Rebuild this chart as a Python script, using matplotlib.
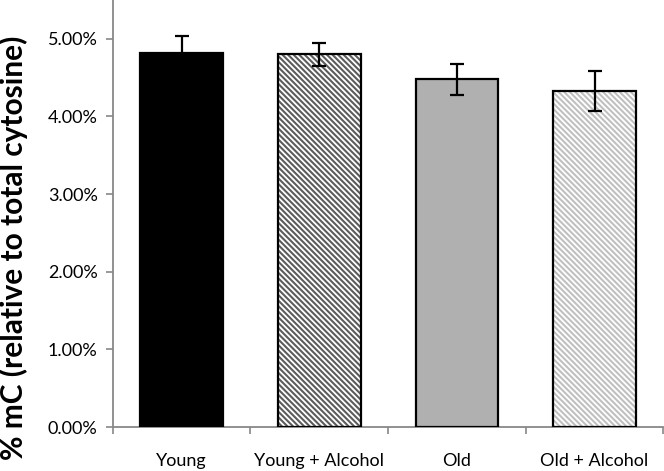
import matplotlib
matplotlib.use("Agg")
import matplotlib.pyplot as plt
import numpy as np
from matplotlib.ticker import FuncFormatter, FixedLocator

categories = ["Young", "Young + Alcohol", "Old", "Old + Alcohol"]
values = [0.0482, 0.0480, 0.0448, 0.0433]
errors = [0.0022, 0.0015, 0.0020, 0.0026]
yticks = [0.0, 0.01, 0.02, 0.03, 0.04, 0.05]

plt.rcParams['font.family'] = ['Lato', 'DejaVu Sans']
plt.rcParams['hatch.linewidth'] = 1.5

fig = plt.figure(figsize=(6.64, 4.71), dpi=100)
ax = fig.add_axes([0.170, 0.0934, 0.829, 0.9066])

x = np.arange(len(categories))
width = 0.6
faces = ["black", "white", "#b0b0b0", "white"]
hatches = [None, "\\\\\\\\\\\\", None, "\\\\\\\\\\\\"]
hcolors = ["black", "#5c5c5c", "#b0b0b0", "#c0c0c0"]

for xi, v, fc, h, hc in zip(x, values, faces, hatches, hcolors):
    ax.bar(xi, v, width, color=fc, hatch=h, edgecolor=hc, linewidth=0, zorder=2)
    ax.bar(xi, v, width, color="none", edgecolor="black", linewidth=1.6, zorder=3)

ax.errorbar(x, values, yerr=errors, fmt="none", ecolor="black",
            elinewidth=1.6, capsize=5, capthick=1.6, zorder=4)

ax.set_xlim(-0.5, len(categories) - 0.5)
ax.set_ylim(0, 0.055)
ax.set_yticks(yticks)
ax.yaxis.set_major_formatter(FuncFormatter(lambda v, p: f"{v*100:.2f}%"))

ax.set_xticks(x)
ax.set_xticklabels(categories)
ax.xaxis.set_minor_locator(FixedLocator(np.arange(-0.5, len(categories), 1.0)))
ax.tick_params(axis="x", which="major", length=0, pad=19, labelsize=13)
ax.tick_params(axis="x", which="minor", length=5, width=1.2, color="#888888", direction="out")
ax.tick_params(axis="y", length=5, width=1.2, color="#888888", labelsize=13, pad=6)

for s in ["top", "right"]:
    ax.spines[s].set_visible(False)
for s in ["left", "bottom"]:
    ax.spines[s].set_color("#888888")
    ax.spines[s].set_linewidth(1.3)

ax.set_ylabel("% mC (relative to total cytosine)", fontsize=21.5, fontweight="bold",
              va="center", ha="center")
ax.yaxis.set_label_coords(-0.18, 0.419)

fig.savefig("out.png", dpi=100)
